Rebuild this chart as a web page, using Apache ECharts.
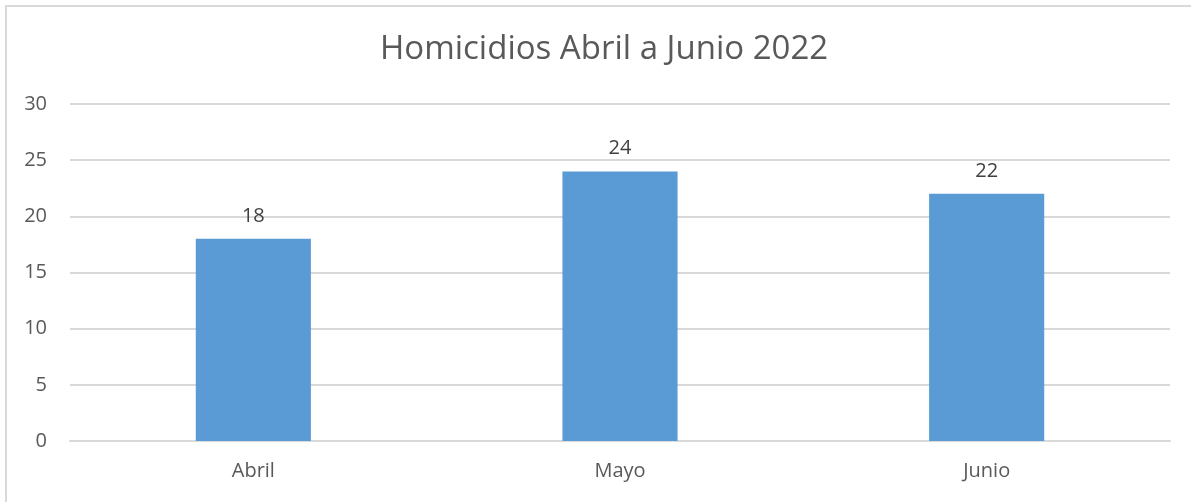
<!DOCTYPE html>
<html><head><meta charset="utf-8">
<script src="https://cdn.jsdelivr.net/npm/echarts@6/dist/echarts.min.js"></script>
<style>
html,body{margin:0;padding:0;background:#fff;overflow:hidden;}
#frame{position:absolute;left:5px;top:5px;width:1200px;height:510px;border:2px solid #d9d9d9;box-sizing:border-box;}
#c{position:absolute;left:0;top:0;width:1191px;height:502px;}
</style></head>
<body>
<div id="frame"></div>
<div id="c"></div>
<script>
const categories = ['Abril', 'Mayo', 'Junio'];
const homicidios = [18, 24, 22];
const yTicks = [0, 5, 10, 15, 20, 25, 30];
const titleText = 'Homicidios Abril a Junio 2022';

const chart = echarts.init(document.getElementById('c'));
chart.setOption({
  animation: false,
  title: {
    text: titleText, left: 375, top: 28,
    textStyle: { fontFamily: 'Open Sans', fontSize: 33, fontWeight: 'normal', color: '#595959' }
  },
  grid: { left: 70, right: 21, top: 104, bottom: 61, containLabel: false },
  xAxis: {
    type: 'category', data: categories,
    axisLine: { lineStyle: { color: '#d9d9d9', width: 2 } },
    axisTick: { show: false },
    axisLabel: { color: '#595959', fontFamily: 'Open Sans', fontSize: 20, margin: 20 }
  },
  yAxis: {
    type: 'value', min: yTicks[0], max: yTicks[yTicks.length - 1], interval: 5,
    axisLine: { show: false }, axisTick: { show: false },
    splitLine: { lineStyle: { color: '#d9d9d9', width: 2 } },
    axisLabel: { color: '#595959', fontFamily: 'Open Sans', fontSize: 20, margin: 23 }
  },
  series: [{
    type: 'bar', data: homicidios, barWidth: '31.4%',
    itemStyle: { color: '#5B9BD5' },
    label: { show: true, position: 'top', distance: 13, color: '#404040', fontFamily: 'Open Sans', fontSize: 20 }
  }]
});
</script>
</body></html>
